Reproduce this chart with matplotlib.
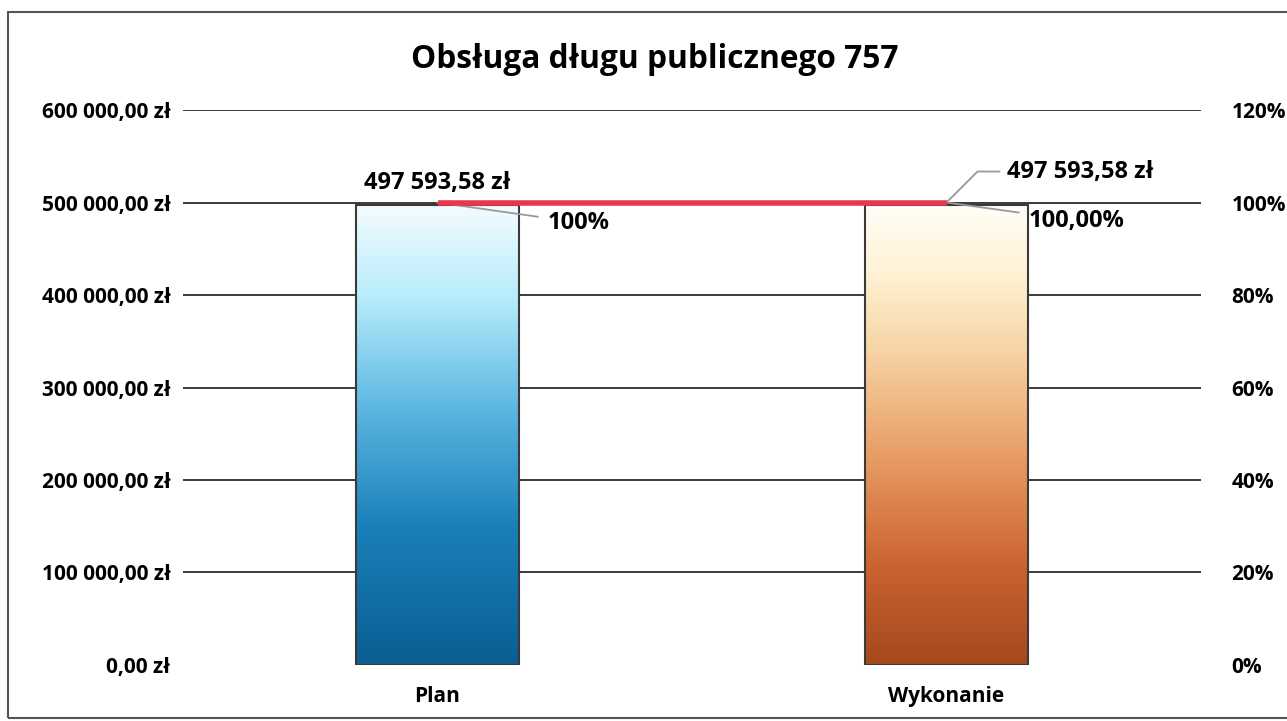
import matplotlib.pyplot as plt
import numpy as np
from matplotlib.colors import LinearSegmentedColormap
from matplotlib.patches import Rectangle
from matplotlib.ticker import FuncFormatter

# data
categories = ["Plan", "Wykonanie"]
amounts = [497593.58, 497593.58]
percent = [1.0, 1.0]
amount_labels = ["497 593,58 zł", "497 593,58 zł"]
percent_labels = ["100%", "100,00%"]

plt.rcParams['font.family'] = ['Open Sans', 'DejaVu Sans']
plt.rcParams['font.weight'] = 'bold'

fig = plt.figure(figsize=(12.87, 7.21), dpi=100)
ax = fig.add_axes([0.1422, 0.0777, 0.7910, 0.7697])
ax2 = ax.twinx()

x = np.arange(len(categories))
w = 0.32

#gradients top -> bottom
blue = LinearSegmentedColormap.from_list("b", [(0, "#f4fcff"), (0.2, "#b8ecfb"), (0.45, "#5ab5e0"),
                                               (0.7, "#1a80b9"), (1, "#0a5e92")])
orange = LinearSegmentedColormap.from_list("o", [(0, "#fffef8"), (0.15, "#fff2d4"), (0.32, "#f7d3a4"),
                                                 (0.55, "#e79c63"), (0.78, "#cc6430"), (1, "#a5481d")])

ax.set_yticks(np.arange(0, 600001, 100000))
ax.yaxis.set_major_formatter(FuncFormatter(lambda v, p: f"{v:,.2f}".replace(",", " ").replace(".", ",") + " zł"))
ax.grid(axis="y", color="#3a3a3a", lw=1.4)
ax.set_axisbelow(True)
ax.get_ygridlines()[0].set_visible(False)

bars = ax.bar(x, amounts, width=w, facecolor="none", edgecolor="#3a3a3a", lw=1.5, zorder=3)
grad = np.linspace(0, 1, 256).reshape(-1, 1)
for b, cm in zip(bars, [blue, orange]):
    im = ax.imshow(grad, cmap=cm, aspect="auto", zorder=2,
                   extent=[b.get_x(), b.get_x() + b.get_width(), 0, b.get_height()])
    im.set_clip_path(b)
ax.set_xlim(-0.5, 1.5)
ax.set_ylim(0, 600000)

ax.set_xticks(x)
ax.set_xticklabels(categories, fontsize=15, fontweight="bold")
ax.tick_params(axis="x", length=0, pad=15)
ax.tick_params(axis="y", length=0, pad=9, labelsize=15)
for s in ax.spines.values():
    s.set_visible(False)

ax2.set_ylim(0, 1.2)
ax2.set_yticks(np.arange(0, 1.21, 0.2))
ax2.yaxis.set_major_formatter(FuncFormatter(lambda v, p: f"{v*100:.0f}%"))
ax2.tick_params(axis="y", length=0, pad=22, labelsize=15)
for s in ax2.spines.values():
    s.set_visible(False)
ax2.plot(x, percent, color="#e8384f", lw=4, zorder=4, solid_capstyle="butt")

#labels
ax.annotate(amount_labels[0], (x[0], amounts[0]), xytext=(0, 10), textcoords="offset pixels",
            ha="center", va="bottom", fontsize=17, fontweight="bold")
ax2.annotate(amount_labels[1], (x[1], percent[1]), xytext=(60, 31), textcoords="offset pixels",
             ha="left", va="center", fontsize=17, fontweight="bold",
             arrowprops=dict(arrowstyle="-", color="#999999", lw=1.3, shrinkA=3, shrinkB=0,
                             connectionstyle="angle,angleA=0,angleB=45,rad=0"))
ax2.annotate(percent_labels[0], (x[0], percent[0]), xytext=(110, -20), textcoords="offset pixels",
             ha="left", va="center", fontsize=17, fontweight="bold",
             arrowprops=dict(arrowstyle="-", color="#999999", lw=1.3, shrinkA=5, shrinkB=0))
ax2.annotate(percent_labels[1], (x[1], percent[1]), xytext=(82, -18), textcoords="offset pixels",
             ha="left", va="center", fontsize=17, fontweight="bold",
             arrowprops=dict(arrowstyle="-", color="#999999", lw=1.3, shrinkA=5, shrinkB=0))

fig.text(0.509, 0.917, "Obsługa długu publicznego 757", ha="center", va="center",
         fontsize=22.8, fontweight="bold")

#frame
fig.patches.append(Rectangle((8, 3), 1300, 706, transform=None, fill=False,
                             edgecolor="#555555", lw=1.5))

fig.savefig("out.png", dpi=100)
